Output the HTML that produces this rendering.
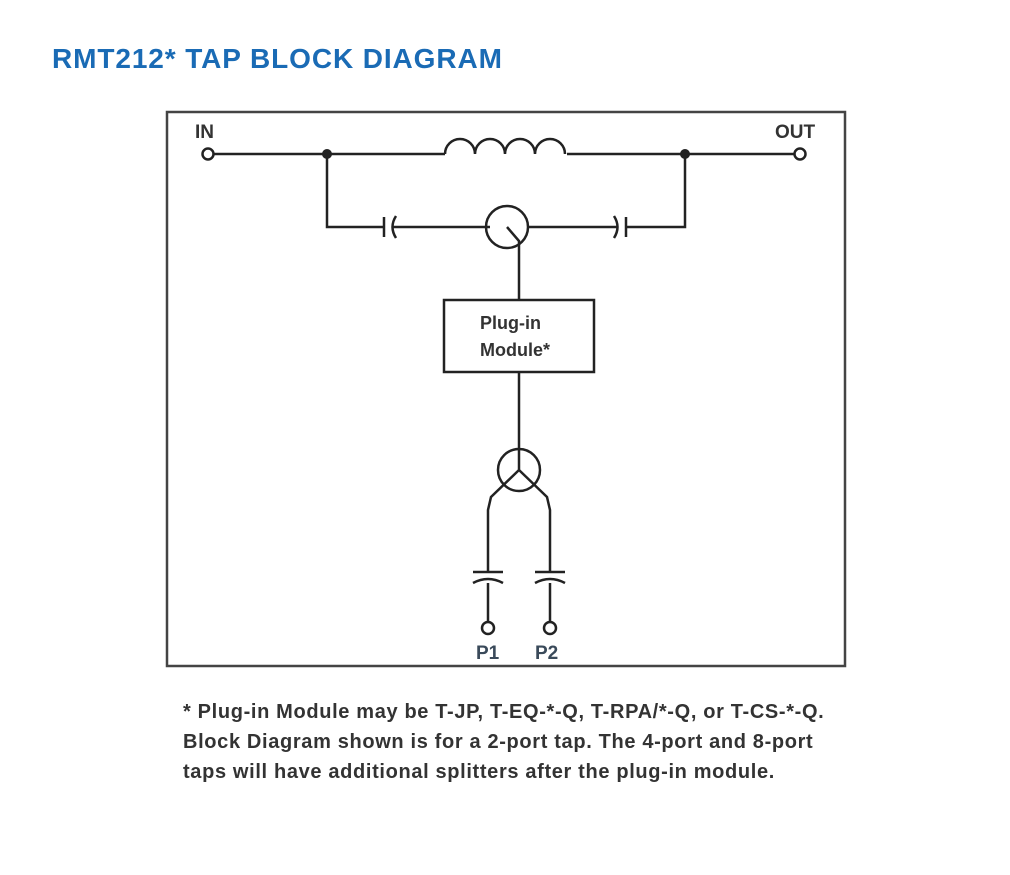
<!DOCTYPE html>
<html><head><style>
body{margin:0;background:#fff;width:1010px;height:875px;overflow:hidden;font-family:"Liberation Sans",sans-serif}
.t{position:absolute;left:52px;top:43px;font-size:28px;font-weight:bold;color:#1a6bb5;letter-spacing:0.9px}
.f{position:absolute;left:183px;top:697px;font-size:20px;font-weight:bold;color:#333;line-height:30px;letter-spacing:0.65px;white-space:nowrap}
</style></head><body>
<div class="t">RMT212* TAP BLOCK DIAGRAM</div>
<svg width="1010" height="875" style="position:absolute;left:0;top:0">
<g stroke="#222" stroke-width="2.5" fill="none">
<rect x="167" y="112" width="678" height="554" stroke="#444" stroke-width="2.5"/>
<circle cx="208" cy="154" r="5.5"/>
<circle cx="800" cy="154" r="5.5"/>
<path d="M214 154H445 M567 154H794"/>
<path d="M445 154 a15 15 0 0 1 30 0 a15 15 0 0 1 30 0 a15 15 0 0 1 30 0 a15 15 0 0 1 30 0"/>
<path d="M327 154V227H384 M392 227H490 M527 227H617 M626 227H685V154"/>
<path d="M384 217V237 M396 216q-7 11 0 22"/>
<path d="M626 217V237 M614 216q7 11 0 22"/>
<circle cx="507" cy="227" r="21"/>
<path d="M507 227L519 241V300"/>
<rect x="444" y="300" width="150" height="72"/>
<path d="M519 372V449"/>
<circle cx="519" cy="470" r="21"/>
<path d="M519 449V470L491 497L488 510V572 M519 470L547 497L550 510V572"/>
<path d="M473 572H503 M473 583q15 -8 30 0 M488 583V622"/>
<path d="M535 572H565 M535 583q15 -8 30 0 M550 583V622"/>
<circle cx="488" cy="628" r="6"/>
<circle cx="550" cy="628" r="6"/>
</g>
<circle cx="327" cy="154" r="5" fill="#222"/>
<circle cx="685" cy="154" r="5" fill="#222"/>
<g font-family="Liberation Sans,sans-serif" font-size="19" fill="#333" font-weight="bold">
<text x="195" y="138">IN</text>
<text x="775" y="138">OUT</text>
<text x="480" y="329" font-size="18">Plug-in</text>
<text x="480" y="356" font-size="18">Module*</text>
<text x="476" y="659" fill="#3a4a5a">P1</text>
<text x="535" y="659" fill="#3a4a5a">P2</text>
</g>
</svg>
<div class="f">* Plug-in Module may be T-JP, T-EQ-*-Q, T-RPA/*-Q, or T-CS-*-Q.<br>Block Diagram shown is for a 2-port tap. The 4-port and 8-port<br>taps will have additional splitters after the plug-in module.</div>
</body></html>
